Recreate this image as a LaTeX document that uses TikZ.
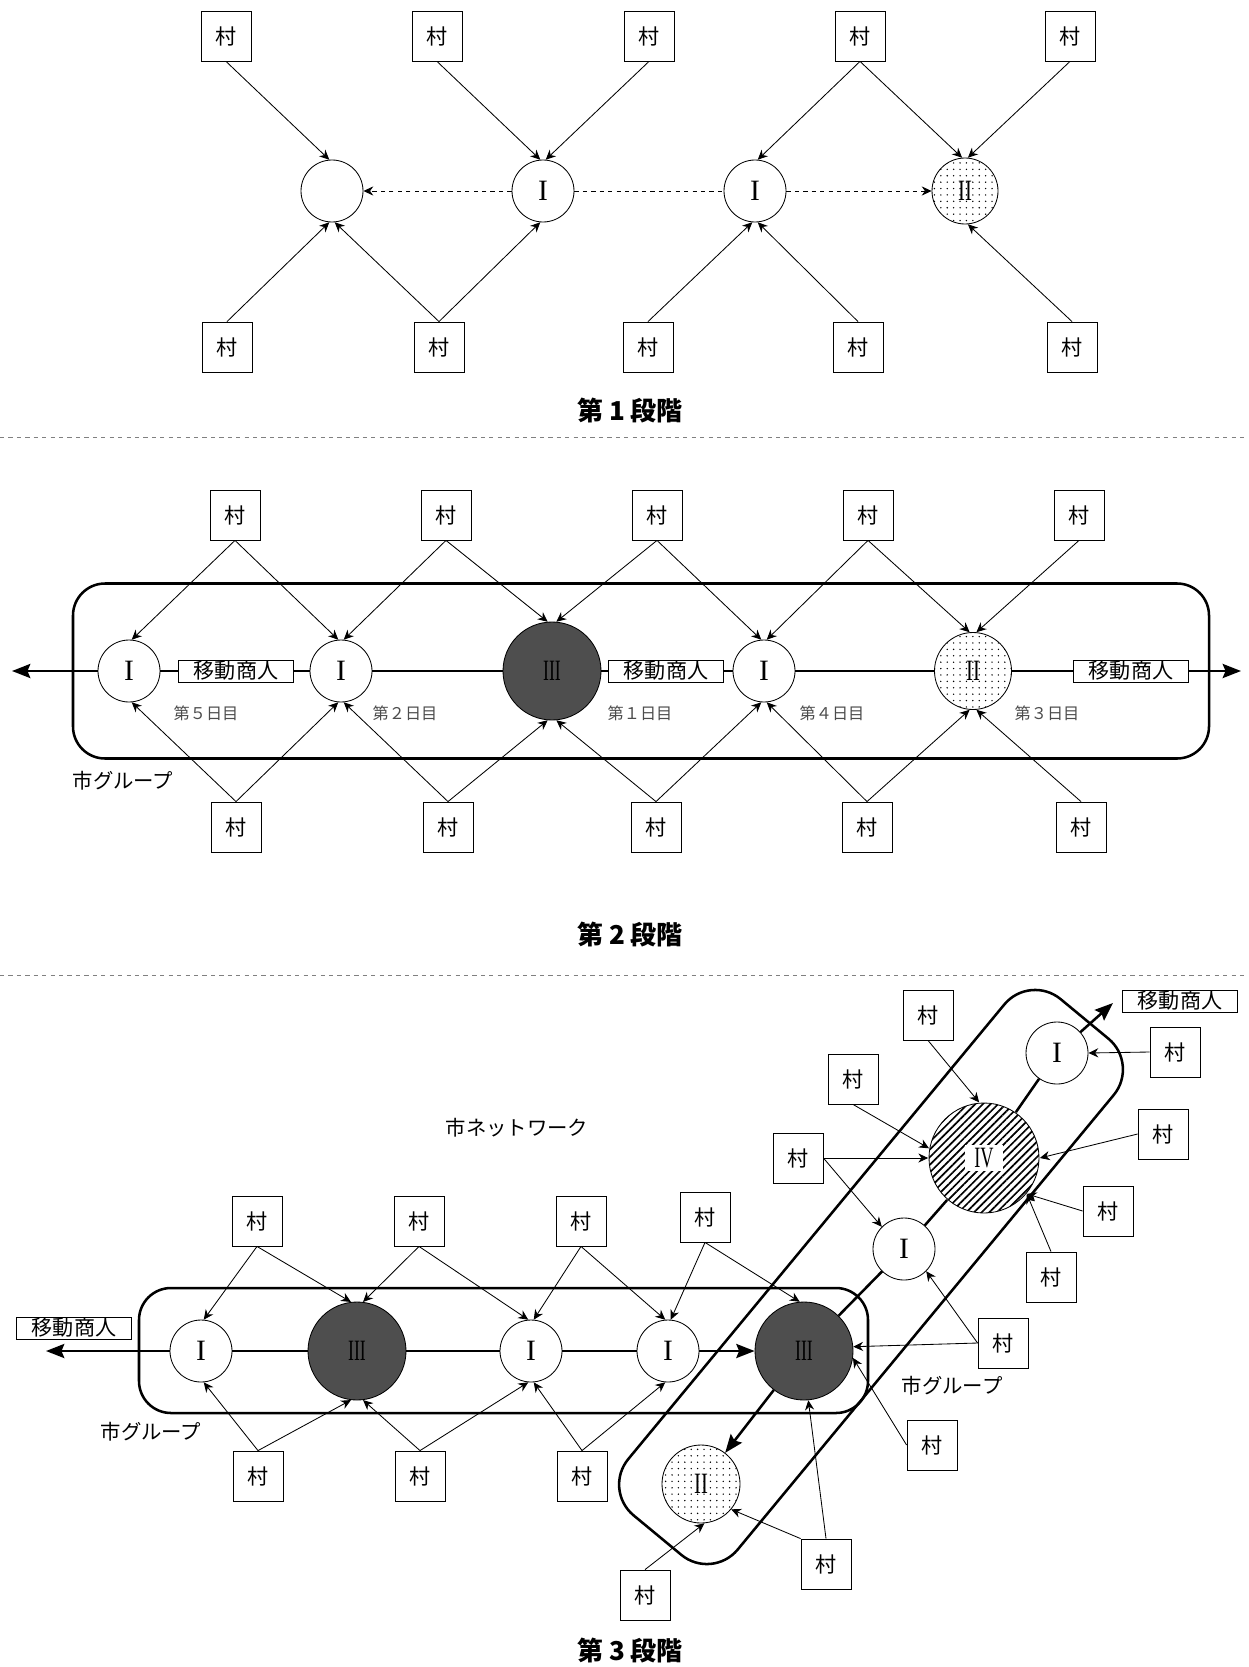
\documentclass[tikz,border=0pt]{standalone}
\usepackage{fontspec}
\usepackage{graphicx}
\usetikzlibrary{arrows.meta,patterns.meta}
\newfontfamily\jp{Noto Sans CJK JP}
\newfontfamily\latinserif{Liberation Serif}
\newlength\upx
\setlength\upx{0.25mm}
\definecolor{dunkel}{RGB}{78,78,78}

\tikzset{
  mura/.style={draw, line width=0.6pt, fill=white, minimum size=50\upx, inner sep=0pt,
    font=\jp\fontsize{15}{15}\selectfont},
  ichi/.style={circle, draw, line width=0.6pt, fill=white, minimum size=62\upx, inner sep=0pt,
    font=\latinserif\fontsize{21}{21}\selectfont},
  ni/.style={ichi, preaction={fill=white}, pattern={Dots[distance=1.6mm, radius=0.55pt]}},
  san/.style={ichi, fill=dunkel, minimum size=98\upx},
  yon/.style={ichi, minimum size=110\upx, preaction={fill=white},
    pattern={Lines[angle=45, distance=1.35mm, line width=1.2pt]}},
  yajirushi/.style={line width=0.6pt, -{Stealth[length=7pt, width=6.5pt]}},
  tensen/.style={line width=0.6pt, dashed},
  michi/.style={line width=1.8pt},
  michiya/.style={michi, -{Stealth[length=13pt, width=10pt, inset=2pt]}},
  gurupu/.style={draw, line width=1.8pt, rounded corners=32\upx, inner sep=0pt},
  shonin/.style={draw, line width=0.6pt, fill=white, minimum width=115\upx, minimum height=22\upx,
    inner sep=0pt, font=\jp\fontsize{15}{15}\selectfont},
  hi/.style={font=\jp\fontsize{11.5}{12}\selectfont, text=black!70},
  setsumei/.style={font=\jp\fontsize{14.5}{15}\selectfont},
  midashi/.style={font=\jp\bfseries\fontsize{18.5}{19}\selectfont},
  kugiri/.style={line width=0.5pt, dashed, gray},
}

\begin{document}
\begin{tikzpicture}[x=0.25mm, y=-0.25mm]
  \useasboundingbox (0,0) rectangle (1248,1667);

  % 第1段階
  \node[ichi] (a1) at (332,191) {};
  \node[ichi] (a2) at (543,191) {I};
  \node[ichi] (a3) at (755,191) {I};
  \node[ni, minimum size=66\upx] (a4) at (965,191) {\scalebox{0.7}[1]{II}};
  \node[mura] (at1) at (226,36) {村};
  \node[mura] (at2) at (437,36) {村};
  \node[mura] (at3) at (649,36) {村};
  \node[mura] (at4) at (860,36) {村};
  \node[mura] (at5) at (1070,36) {村};
  \node[mura] (ab1) at (227,347) {村};
  \node[mura] (ab2) at (439,347) {村};
  \node[mura] (ab3) at (648,347) {村};
  \node[mura] (ab4) at (858,347) {村};
  \node[mura] (ab5) at (1072,347) {村};
  \draw[yajirushi] (at1.south) -- (a1.95);
  \draw[yajirushi] (at2.south) -- (a2.95);
  \draw[yajirushi] (at3.south) -- (a2.85);
  \draw[yajirushi] (at4.south) -- (a3.85);
  \draw[yajirushi] (at4.south) -- (a4.95);
  \draw[yajirushi] (at5.south) -- (a4.85);
  \draw[yajirushi] (ab1.north) -- (a1.-95);
  \draw[yajirushi] (ab2.north) -- (a1.-85);
  \draw[yajirushi] (ab2.north) -- (a2.-95);
  \draw[yajirushi] (ab3.north) -- (a3.-95);
  \draw[yajirushi] (ab4.north) -- (a3.-85);
  \draw[yajirushi] (ab5.north) -- (a4.-85);
  \draw[tensen, -{Stealth[length=7pt, width=6.5pt]}] (a2) -- (a1);
  \draw[tensen] (a2) -- (a3);
  \draw[tensen, -{Stealth[length=7pt, width=6.5pt]}] (a3) -- (a4);
  \node[midashi] (ta) at (630,411) {第 1 段階};
  \draw[kugiri] (0,437) -- (1248,437);

  % 第2段階
  \node[gurupu, minimum width=1136\upx, minimum height=175\upx] (gb) at (641,671) {};
  \node[ichi] (b1) at (129,671) {I};
  \node[ichi] (b2) at (341,671) {I};
  \node[san] (b3) at (552,671) {\scalebox{0.6}[1]{III}};
  \node[ichi] (b4) at (764,671) {I};
  \node[ni, minimum size=77\upx] (b5) at (973,671) {\scalebox{0.7}[1]{II}};
  \node[mura] (bt1) at (235,515) {村};
  \node[mura] (bt2) at (446,515) {村};
  \node[mura] (bt3) at (657,515) {村};
  \node[mura] (bt4) at (868,515) {村};
  \node[mura] (bt5) at (1079,515) {村};
  \node[mura] (bb1) at (236,827) {村};
  \node[mura] (bb2) at (448,827) {村};
  \node[mura] (bb3) at (656,827) {村};
  \node[mura] (bb4) at (867,827) {村};
  \node[mura] (bb5) at (1081,827) {村};
  \draw[yajirushi] (bt1.south) -- (b1.85);
  \draw[yajirushi] (bt1.south) -- (b2.95);
  \draw[yajirushi] (bt2.south) -- (b2.85);
  \draw[yajirushi] (bt2.south) -- (b3.95);
  \draw[yajirushi] (bt3.south) -- (b3.85);
  \draw[yajirushi] (bt3.south) -- (b4.95);
  \draw[yajirushi] (bt4.south) -- (b4.85);
  \draw[yajirushi] (bt4.south) -- (b5.95);
  \draw[yajirushi] (bt5.south) -- (b5.85);
  \draw[yajirushi] (bb1.north) -- (b1.-85);
  \draw[yajirushi] (bb1.north) -- (b2.-95);
  \draw[yajirushi] (bb2.north) -- (b2.-85);
  \draw[yajirushi] (bb2.north) -- (b3.-95);
  \draw[yajirushi] (bb3.north) -- (b3.-85);
  \draw[yajirushi] (bb3.north) -- (b4.-95);
  \draw[yajirushi] (bb4.north) -- (b4.-85);
  \draw[yajirushi] (bb4.north) -- (b5.-95);
  \draw[yajirushi] (bb5.north) -- (b5.-85);
  \coordinate (bl) at (12,671);
  \coordinate (br) at (1241,671);
  \draw[michiya] (b1) -- (bl);
  \draw[michi] (b1) -- (b2);
  \draw[michi] (b2) -- (b3);
  \draw[michi] (b3) -- (b4);
  \draw[michi] (b4) -- (b5);
  \draw[michiya] (b5) -- (br);
  \node[shonin] (bs1) at (236,671) {移動商人};
  \node[shonin] (bs2) at (666,671) {移動商人};
  \node[shonin] (bs3) at (1131,671) {移動商人};
  \node[hi] (bd5) at (206,713) {第５日目};
  \node[hi] (bd2) at (405,713) {第２日目};
  \node[hi] (bd1) at (640,713) {第１日目};
  \node[hi] (bd4) at (832,713) {第４日目};
  \node[hi] (bd3) at (1047,713) {第３日目};
  \node[setsumei] (bg) at (123,781) {市グループ};
  \node[midashi] (tb) at (630,935) {第 2 段階};
  \draw[kugiri] (0,975) -- (1248,975);

  % 第3段階
  \node[setsumei] (cn) at (517,1128) {市ネットワーク};
  \node[gurupu, minimum width=729\upx, minimum height=125\upx] (gc1) at (503.5,1350.5) {};
  \node[gurupu, rounded corners=40\upx, minimum width=670\upx, minimum height=142\upx,
    rotate=50.4] (gc2) at (871,1277) {};
  \node[ichi] (c1) at (201,1351) {I};
  \node[san] (c2) at (357,1351) {\scalebox{0.6}[1]{III}};
  \node[ichi] (c3) at (531,1351) {I};
  \node[ichi] (c4) at (668,1351) {I};
  \node[san] (c5) at (804,1351) {\scalebox{0.6}[1]{III}};
  \node[ichi] (c6) at (904,1249) {I};
  \node[yon] (c7) at (984,1158)
    {\setlength\fboxsep{2.5pt}\colorbox{white}{\hspace{4pt}\scalebox{0.62}[1]{IV}\hspace{4pt}}};
  \node[ichi] (c8) at (1057,1053) {I};
  \node[ni, minimum size=78\upx] (c9) at (701,1484) {\scalebox{0.7}[1]{II}};
  \node[mura] (ct1) at (257,1221) {村};
  \node[mura] (ct2) at (419,1221) {村};
  \node[mura] (ct3) at (581,1221) {村};
  \node[mura] (ct4) at (705,1217) {村};
  \node[mura] (cb1) at (258,1476) {村};
  \node[mura] (cb2) at (420,1476) {村};
  \node[mura] (cb3) at (582,1476) {村};
  \node[mura] (cva) at (928,1015) {村};
  \node[mura] (cvb) at (853,1079) {村};
  \node[mura] (cvc) at (798,1158) {村};
  \node[mura] (cvd) at (1175,1052) {村};
  \node[mura] (cve) at (1163,1134) {村};
  \node[mura] (cvf) at (1108,1211) {村};
  \node[mura] (cvg) at (1051,1277) {村};
  \node[mura] (cvh) at (1003,1343) {村};
  \node[mura] (cvi) at (932,1445) {村};
  \node[mura] (cvj) at (826,1564) {村};
  \node[mura] (cvk) at (645,1595) {村};
  \draw[yajirushi] (ct1.south) -- (c1.85);
  \draw[yajirushi] (ct1.south) -- (c2.97);
  \draw[yajirushi] (ct2.south) -- (c2.83);
  \draw[yajirushi] (ct2.south) -- (c3.95);
  \draw[yajirushi] (ct3.south) -- (c3.85);
  \draw[yajirushi] (ct3.south) -- (c4.95);
  \draw[yajirushi] (ct4.south) -- (c4.85);
  \draw[yajirushi] (ct4.south) -- (c5.95);
  \draw[yajirushi] (cb1.north) -- (c1.-85);
  \draw[yajirushi] (cb1.north) -- (c2.-97);
  \draw[yajirushi] (cb2.north) -- (c2.-83);
  \draw[yajirushi] (cb2.north) -- (c3.-95);
  \draw[yajirushi] (cb3.north) -- (c3.-85);
  \draw[yajirushi] (cb3.north) -- (c4.-95);
  \draw[yajirushi] (cva.south) -- (c7.95);
  \draw[yajirushi] (cvb.south) -- (c7.170);
  \draw[yajirushi] (cvc.east) -- (c7.180);
  \draw[yajirushi] (cvc.east) -- (c6.135);
  \draw[yajirushi] (cvd.west) -- (c8.east);
  \draw[yajirushi] (cve.west) -- (c7.0);
  \draw[yajirushi] (cvf.west) -- (c7.-40);
  \draw[yajirushi] (cvg.north) -- (c7.-40);
  \draw[yajirushi] (cvh.west) -- (c6.-45);
  \draw[yajirushi] (cvh.west) -- (c5.5);
  \draw[yajirushi] (cvi.west) -- (c5.-8);
  \draw[yajirushi] (cvj.north) -- (c5.-85);
  \draw[yajirushi] (cvj.north west) -- (c9.-40);
  \draw[yajirushi] (cvk.north) -- (c9.-85);
  \coordinate (cl) at (46,1351);
  \coordinate (cr) at (1113,1003);
  \draw[michiya] (c1) -- (cl);
  \draw[michi] (c1) -- (c2);
  \draw[michi] (c2) -- (c3);
  \draw[michi] (c3) -- (c4);
  \draw[michiya] (c4) -- (c5);
  \draw[michi] (c5) -- (c6);
  \draw[michi] (c6) -- (c7);
  \draw[michi] (c7) -- (c8);
  \draw[michiya] (c8) -- (cr);
  \draw[michiya] (c5) -- (c9);
  \node[shonin] (cs1) at (74,1328) {移動商人};
  \node[shonin] (cs2) at (1180,1001) {移動商人};
  \node[setsumei] (cg1) at (151,1432) {市グループ};
  \node[setsumei] (cg2) at (952,1386) {市グループ};
  \node[midashi] (tc) at (630,1651) {第 3 段階};
\end{tikzpicture}
\end{document}
